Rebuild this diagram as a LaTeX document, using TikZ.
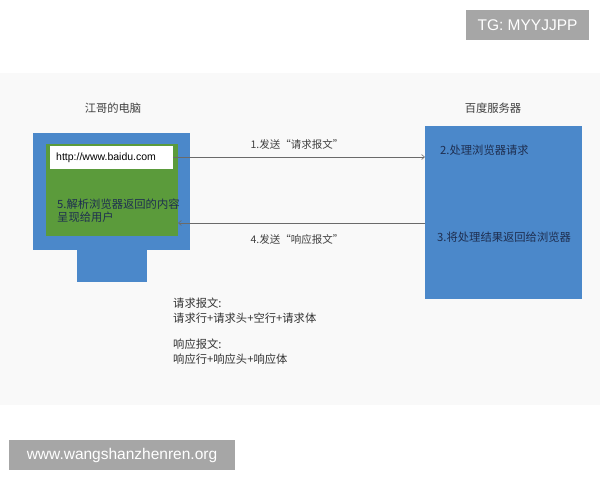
\documentclass[tikz,border=0pt]{standalone}
\usepackage{fontspec}
\setmainfont{Liberation Sans}
\newfontfamily\cjk{Noto Sans CJK SC}
\usetikzlibrary{arrows.meta}
\definecolor{bandgray}{HTML}{F9F9F9}
\definecolor{wmgray}{HTML}{A6A6A6}
\definecolor{boxblue}{HTML}{4B88CA}
\definecolor{boxgreen}{HTML}{5B9B3B}
\definecolor{navy}{HTML}{1E2E50}
\definecolor{linegray}{HTML}{6A6A6A}
\begin{document}
\begin{tikzpicture}[x=1pt,y=-1pt,
  wm/.style={fill=wmgray,inner sep=0pt,anchor=north west},
  wmtext/.style={text=white,font=\fontsize{15.5}{18}\selectfont,inner sep=0pt},
  title/.style={font=\cjk\fontsize{11.3}{13}\selectfont,text=black!75},
  inbox/.style={font=\cjk\fontsize{11.3}{14}\selectfont,text=navy,align=left,anchor=west,inner sep=0pt},
  lbl/.style={font=\cjk\fontsize{10.5}{12}\selectfont,text=black!75,inner sep=0pt},
  conn/.style={draw=linegray,line width=0.6pt,-{Straight Barb[length=3pt,width=5pt]}},
  note/.style={font=\cjk\fontsize{11.3}{14.5}\selectfont,text=black!80,align=left,anchor=north west,inner sep=0pt}]
\useasboundingbox (0,0) rectangle (600,480);
\fill[white] (0,0) rectangle (600,480);
\fill[bandgray] (0,73) rectangle (600,405);
% watermarks
\node[wm,minimum width=123pt,minimum height=30pt] (tg) at (466,10) {};
\node[wmtext] (tgt) at (527.5,25) {TG: MYYJJPP};
\node[wm,minimum width=226pt,minimum height=30pt] (www) at (9,440) {};
\node[wmtext] (wwwt) at (122,455) {www.wangshanzhenren.org};
% computer
\node[title] (pctitle) at (113,108) {江哥的电脑};
\fill[boxblue] (77,248) rectangle (147,282);
\fill[boxblue] (33,133) rectangle (190,250);
\fill[boxgreen] (46,144) rectangle (178,236);
\node[fill=white,minimum width=123pt,minimum height=23pt,inner sep=0pt,anchor=north west] (url) at (50,146) {};
\node[font=\fontsize{10.5}{12}\selectfont,anchor=west,inner sep=0pt] (urlt) at (56,157.5) {http://www.baidu.com};
\node[inbox,font=\cjk\fontsize{11.3}{13}\selectfont] (step5) at (57,211) {5.解析浏览器返回的内容\\呈现给用户};
\coordinate (pcr) at (178,223);
% server
\node[title] (svtitle) at (493,108) {百度服务器};
\node[fill=boxblue,minimum width=157pt,minimum height=173pt,inner sep=0pt,anchor=north west] (server) at (425,126) {};
\node[inbox] (step2) at (440,150) {2.处理浏览器请求};
\node[inbox] (step3) at (437,237) {3.将处理结果返回给浏览器};
% connectors
\draw[conn] (url.east |- 0,157) -- (server.west |- 0,157);
\draw[conn] (server.west |- pcr) -- (pcr);
\node[lbl] (l1) at (297,144) {1.发送“请求报文”};
\node[lbl] (l4) at (297,239) {4.发送“响应报文”};
% notes
\node[note] (notes) at (173,298) {请求报文:\\请求行+请求头+空行+请求体\\[12pt]响应报文:\\响应行+响应头+响应体};
\end{tikzpicture}
\end{document}
